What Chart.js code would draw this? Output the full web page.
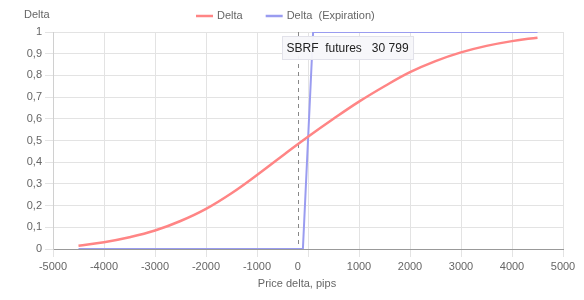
<!DOCTYPE html>
<html>
<head>
<meta charset="utf-8">
<script src="https://cdn.jsdelivr.net/npm/chart.js@4/dist/chart.umd.min.js"></script>
<style>
    body { margin: 0; background: #fff; }
    #wrap { width: 584px; height: 300px; }
</style>
</head>
<body>
<div id="wrap"><canvas id="deltaChart"></canvas></div>
<script>
// price delta (pips) for the delta curve
const priceDelta = [-4500, -4000, -3500, -3000, -2500, -2000, -1500, -1000, -500, 0,
                    500, 1000, 1500, 2000, 2500, 3000, 3500, 4000, 4500];
// option delta
const deltaValues = [0.015, 0.031, 0.054, 0.085, 0.129, 0.185, 0.257, 0.341, 0.430, 0.517,
                     0.600, 0.679, 0.750, 0.815, 0.866, 0.906, 0.936, 0.958, 0.974];
// delta at expiration (step)
const expirationX = [-4500, -100, 100, 4500];
const expirationY = [0, 0, 1, 1];

// where the futures price sits on the x axis
const futuresDelta = -200;
const futuresLabel = 'SBRF  futures   30 799';

const seriesNames = ['Delta', 'Delta  (Expiration)'];
const yAxisTitle = 'Delta';
const xAxisTitle = 'Price delta, pips';

const xTicks = [-5000, -4000, -3000, -2000, -1000, 0, 1000, 2000, 3000, 4000, 5000];

const fontFamily = '"Liberation Sans", Arial, sans-serif';
const textColour = '#666';
const redColour = '#ff8585';
const blueColour = '#9a9cf0';

// ---------------- //
// Extra drawing    //
// ---------------- //
const futuresLinePlugin = {
    id: 'futuresLine',
    beforeDatasetsDraw: (chart) => {
        const ctx = chart.ctx;
        const x = chart.scales.x.getPixelForValue(futuresDelta);
        ctx.save();
        ctx.strokeStyle = '#888';
        ctx.lineWidth = 1;
        ctx.setLineDash([4, 4]);
        ctx.beginPath();
        ctx.moveTo(Math.round(x) + 0.5, chart.chartArea.top);
        ctx.lineTo(Math.round(x) + 0.5, chart.chartArea.bottom);
        ctx.stroke();
        ctx.restore();
    },
    afterDraw: (chart) => {
        const ctx = chart.ctx;
        const area = chart.chartArea;
        const x = chart.scales.x.getPixelForValue(futuresDelta);
        ctx.save();

        // "0" label sits under the futures line instead of the grid line
        ctx.font = '11px ' + fontFamily;
        ctx.fillStyle = textColour;
        ctx.textAlign = 'center';
        ctx.textBaseline = 'middle';
        ctx.fillText('0', x, area.bottom + 18);

        // futures price box
        ctx.font = '12px ' + fontFamily;
        const w = ctx.measureText(futuresLabel).width + 9;
        const bx = Math.round(x) - 15.5;
        const by = area.top + 4.5;
        ctx.fillStyle = 'rgba(247, 247, 250, 0.95)';
        ctx.strokeStyle = '#e2e2ea';
        ctx.lineWidth = 1;
        ctx.fillRect(bx, by, w, 23);
        ctx.strokeRect(bx, by, w, 23);
        ctx.fillStyle = '#222';
        ctx.textAlign = 'left';
        ctx.fillText(futuresLabel, bx + 4, by + 12);

        // axis titles
        ctx.font = '11px ' + fontFamily;
        ctx.fillStyle = textColour;
        ctx.textAlign = 'left';
        ctx.fillText(yAxisTitle, 24, 15);
        ctx.textAlign = 'center';
        ctx.fillText(xAxisTitle, 297, 284);

        // legend
        const items = chart.data.datasets.map(ds => ({ text: ds.label, colour: ds.borderColor }));
        const widths = items.map(it => 17 + 4 + ctx.measureText(it.text).width);
        const gap = 23;
        const total = widths.reduce((a, b) => a + b, 0) + gap * (items.length - 1);
        let lx = 196;
        ctx.textAlign = 'left';
        items.forEach((it, i) => {
            ctx.strokeStyle = it.colour;
            ctx.lineWidth = 2.5;
            ctx.beginPath();
            ctx.moveTo(lx, 16);
            ctx.lineTo(lx + 17, 16);
            ctx.stroke();
            ctx.fillStyle = textColour;
            ctx.fillText(it.text, lx + 21, 16);
            lx += widths[i] + gap;
        });

        ctx.restore();
    }
};

// ------------ //
// Create chart //
// ------------ //
const ctx = document.getElementById('deltaChart').getContext('2d');
const chart = new Chart(ctx, {
    type: 'line',
    data: {
        datasets: [{
            label: seriesNames[0],
            data: priceDelta.map((x, i) => ({ x: x, y: deltaValues[i] })),
            borderColor: redColour,
            backgroundColor: redColour,
            borderWidth: 2.5,
            pointRadius: 0,
            tension: 0.4
        }, {
            label: seriesNames[1],
            data: expirationX.map((x, i) => ({ x: x, y: expirationY[i] })),
            borderColor: blueColour,
            backgroundColor: blueColour,
            borderWidth: 2,
            pointRadius: 0,
            tension: 0
        }]
    },
    options: {
        responsive: true,
        maintainAspectRatio: false,
        animation: false,
        layout: {
            padding: { left: 0, right: 21, top: 32, bottom: 0 }
        },
        scales: {
            x: {
                type: 'linear',
                min: xTicks[0],
                max: xTicks[xTicks.length - 1],
                afterBuildTicks: (scale) => {
                    scale.ticks = xTicks.map(v => ({ value: v }));
                },
                afterFit: (scale) => { scale.height = 51; },
                ticks: {
                    autoSkip: false,
                    maxRotation: 0,
                    padding: 3,
                    color: textColour,
                    font: { family: fontFamily, size: 11 },
                    callback: (value) => value === 0 ? '' : String(value)
                },
                grid: { color: '#e3e3e3', tickLength: 8 },
                border: { color: '#999' }
            },
            y: {
                min: 0,
                max: 1,
                afterFit: (scale) => { scale.width = 53; },
                ticks: {
                    stepSize: 0.1,
                    padding: 3,
                    color: textColour,
                    font: { family: fontFamily, size: 11 },
                    callback: (value) => {
                        const v = Math.round(value * 10) / 10;
                        return String(v).replace('.', ',');
                    }
                },
                grid: { color: '#e3e3e3', tickLength: 8 },
                border: { color: '#d0d0d0' }
            }
        },
        plugins: {
            legend: { display: false },
            tooltip: { enabled: false }
        }
    },
    plugins: [futuresLinePlugin]
});
</script>
</body>
</html>
